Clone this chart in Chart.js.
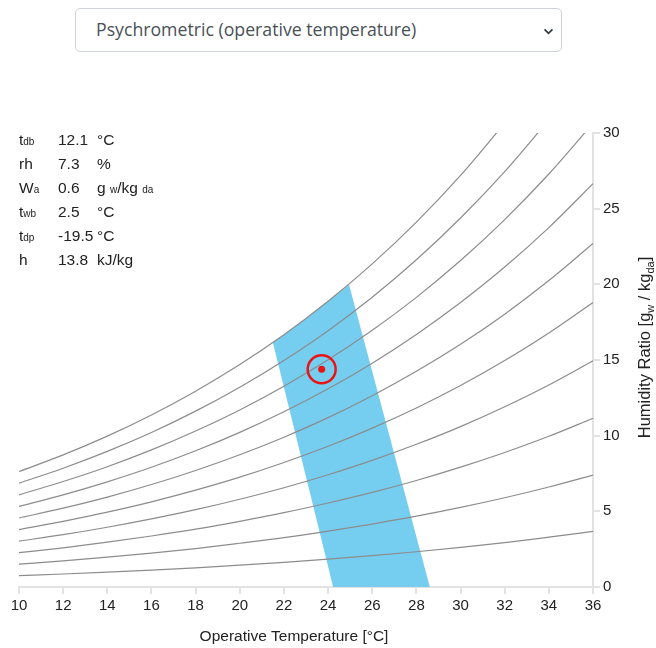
<!DOCTYPE html>
<html>
<head>
<meta charset="utf-8">
<script src="https://cdn.jsdelivr.net/npm/chart.js@4.4.1/dist/chart.umd.min.js"></script>
<style>
  html, body { margin: 0; padding: 0; background: #fff; width: 656px; height: 648px; overflow: hidden; }
  #sel {
    position: absolute; left: 75px; top: 8px; width: 487px; height: 44px;
    border: 1px solid #ced4da; border-radius: 5px; background-color: #fff;
    font-family: "Open Sans", sans-serif; font-size: 17.7px; color: #495057;
    padding: 0 0 2px 20px; box-sizing: border-box;
    -webkit-appearance: none; appearance: none; outline: none;
    background-image: url("data:image/svg+xml;utf8,<svg xmlns='http://www.w3.org/2000/svg' width='12' height='8' viewBox='0 0 12 8'><path d='M1.5 1.5 L6 6 L10.5 1.5' fill='none' stroke='%23343a40' stroke-width='2'/></svg>");
    background-repeat: no-repeat; background-position: 467px 19px; background-size: 11px 7px;
  }
  #wrap { position: absolute; left: 0; top: 100px; width: 656px; height: 548px; }
  #info { position: absolute; left: 0; top: 0; font-family: "Liberation Sans", Arial, sans-serif; font-size: 15.5px; color: #222; }
  .row { position: absolute; white-space: nowrap; }
  .row span { position: absolute; top: 0; }
  .row span.sub { position: static; font-size: 10px; }
</style>
</head>
<body>
<select id="sel"><option>Psychrometric (operative temperature)</option></select>
<div id="wrap"><canvas id="c"></canvas></div>
<div id="info"></div>
<script>
// ---- data ----
const temps = [10, 12, 14, 16, 18, 20, 22, 24, 26, 28, 30, 32, 34, 36];
const rh10  = [0.75, 0.86, 0.98, 1.12, 1.27, 1.44, 1.63, 1.84, 2.07, 2.33, 2.62, 2.93, 3.29, 3.67];
const rh20  = [1.51, 1.73, 1.97, 2.24, 2.54, 2.89, 3.26, 3.69, 4.16, 4.68, 5.26, 5.90, 6.61, 7.39];
const rh30  = [2.27, 2.59, 2.96, 3.37, 3.82, 4.34, 4.91, 5.55, 6.25, 7.04, 7.92, 8.89, 9.96, 11.15];
const rh40  = [3.03, 3.46, 3.95, 4.50, 5.11, 5.80, 6.56, 7.42, 8.37, 9.43, 10.60, 11.91, 13.35, 14.95];
const rh50  = [3.79, 4.34, 4.95, 5.63, 6.40, 7.26, 8.23, 9.30, 10.50, 11.83, 13.31, 14.96, 16.78, 18.80];
const rh60  = [4.56, 5.21, 5.94, 6.77, 7.70, 8.74, 9.90, 11.19, 12.64, 14.25, 16.04, 18.03, 20.25, 22.70];
const rh70  = [5.32, 6.09, 6.95, 7.91, 9.00, 10.22, 11.58, 13.10, 14.79, 16.69, 18.80, 21.14, 23.75, 26.65];
const rh80  = [6.09, 6.97, 7.95, 9.06, 10.31, 11.70, 13.27, 15.01, 16.96, 19.14, 21.57, 24.28, 27.29, 30.64];
const rh90  = [6.86, 7.85, 8.96, 10.21, 11.62, 13.20, 14.97, 16.94, 19.15, 21.62, 24.38, 27.45, 30.87];
const rh100 = [7.63, 8.73, 9.97, 11.37, 12.94, 14.70, 16.67, 18.88, 21.35, 24.11, 27.20, 30.65];
const rhCurves = [rh10, rh20, rh30, rh40, rh50, rh60, rh70, rh80, rh90, rh100];

const zoneT = [24.23, 21.5, 22, 23, 24, 24.95, 28.61];
const zoneW = [0, 16.15, 16.67, 17.75, 18.88, 19.98, 0];

const pointT = [23.71];
const pointW = [14.39];

const xTicks = [10, 12, 14, 16, 18, 20, 22, 24, 26, 28, 30, 32, 34, 36];
const yTicks = [0, 5, 10, 15, 20, 25, 30];

const infoLabels = [["t", "db"], ["rh", ""], ["W", "a"], ["t", "wb"], ["t", "dp"], ["h", ""]];
const infoValues = ["12.1", "7.3", "0.6", "2.5", "-19.5", "13.8"];
const infoUnits  = ["°C", "%", "g _w/kg _da", "°C", "°C", "kJ/kg"];

// ---- info panel ----
const info = document.getElementById('info');
function unitHTML(u) {
  return u.replace(/_([a-z]+)/g, '<span class="sub">$1</span>');
}
infoLabels.forEach((lab, i) => {
  const row = document.createElement('div');
  row.className = 'row';
  row.style.top = (131 + i * 24) + 'px';
  row.innerHTML =
    '<span style="left:19px">' + lab[0] + '<span class="sub">' + lab[1] + '</span></span>' +
    '<span style="left:58px">' + infoValues[i] + '</span>' +
    '<span style="left:97px">' + unitHTML(infoUnits[i]) + '</span>';
  info.appendChild(row);
});

// ---- chart ----
const FONT = '"Liberation Sans", Arial, sans-serif';
const datasets = [];
datasets.push({
  data: zoneT.map((t, i) => ({ x: t, y: zoneW[i] })),
  showLine: true, borderWidth: 0, pointRadius: 0, tension: 0,
  backgroundColor: 'rgb(117,206,240)', borderColor: 'rgba(0,0,0,0)',
  fill: 'shape', order: 10
});
rhCurves.forEach(c => {
  datasets.push({
    data: c.map((w, i) => ({ x: temps[i], y: w })),
    showLine: true, borderWidth: 1.2, pointRadius: 0,
    borderColor: 'rgb(140,140,140)', fill: false,
    cubicInterpolationMode: 'monotone', order: 5
  });
});
datasets.push({
  data: pointT.map((t, i) => ({ x: t, y: pointW[i] })),
  showLine: false, pointRadius: 14, pointBorderWidth: 2.5,
  pointBorderColor: 'rgb(235,20,20)', pointBackgroundColor: 'rgba(0,0,0,0)', order: 1
});
datasets.push({
  data: pointT.map((t, i) => ({ x: t, y: pointW[i] })),
  showLine: false, pointRadius: 3.5, pointBorderWidth: 0,
  pointBackgroundColor: 'rgb(235,20,20)', pointBorderColor: 'rgb(235,20,20)', order: 0
});

const titlePlugin = {
  id: 'titles',
  afterDraw(chart) {
    const ctx = chart.ctx;
    ctx.save();
    ctx.fillStyle = '#222';
    // x title
    ctx.font = '15.5px ' + FONT;
    ctx.textAlign = 'center';
    ctx.textBaseline = 'middle';
    ctx.fillText('Operative Temperature [°C]', 294, 537);
    // y title with subscripts, rotated
    const parts = [['Humidity Ratio [g', false], ['w', true], [' / kg', false], ['da', true], [']', false]];
    const big = '16.5px ' + FONT, small = '11px ' + FONT;
    let total = 0;
    parts.forEach(p => { ctx.font = p[1] ? small : big; total += ctx.measureText(p[0]).width; });
    ctx.translate(645, 247.5);
    ctx.rotate(-Math.PI / 2);
    ctx.textAlign = 'left';
    ctx.textBaseline = 'alphabetic';
    let xx = -total / 2;
    parts.forEach(p => {
      ctx.font = p[1] ? small : big;
      ctx.fillText(p[0], xx, p[1] ? 9 : 5);
      xx += ctx.measureText(p[0]).width;
    });
    ctx.restore();
  }
};

new Chart(document.getElementById('c'), {
  type: 'line',
  data: { datasets },
  plugins: [titlePlugin],
  options: {
    responsive: true, maintainAspectRatio: false, animation: false,
    layout: { padding: { left: 19, top: 33, right: 0, bottom: 0 } },
    plugins: { legend: { display: false }, tooltip: { enabled: false } },
    scales: {
      x: {
        type: 'linear', min: 10, max: 36,
        afterBuildTicks: s => { s.ticks = xTicks.map(v => ({ value: v })); },
        ticks: { color: '#222', font: { size: 15, family: FONT }, padding: 3, maxRotation: 0, autoSkip: false },
        grid: { drawOnChartArea: false, tickLength: 7, color: '#e2e2e2', lineWidth: 2 },
        border: { color: '#e2e2e2', width: 2 },
        afterFit: s => { s.height = 61; }
      },
      y: {
        type: 'linear', position: 'right', min: 0, max: 30,
        afterBuildTicks: s => { s.ticks = yTicks.map(v => ({ value: v })); },
        ticks: { color: '#222', font: { size: 15, family: FONT }, padding: 3, autoSkip: false },
        grid: { drawOnChartArea: false, tickLength: 7, color: '#e2e2e2', lineWidth: 2 },
        border: { color: '#e2e2e2', width: 2 },
        afterFit: s => { s.width = 63; }
      }
    }
  }
});
</script>
</body>
</html>
